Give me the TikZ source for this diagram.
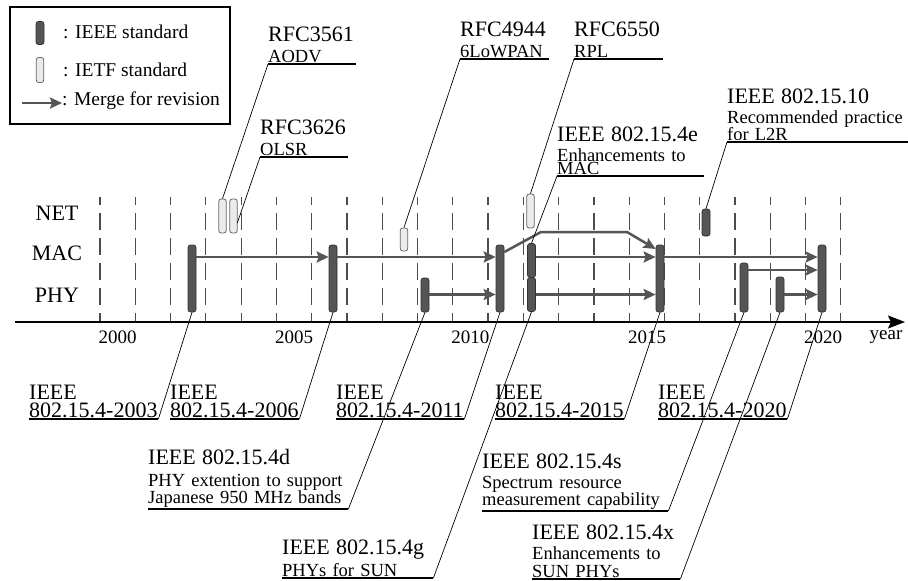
\documentclass[tikz,border=0pt]{standalone}
\usepackage{fontspec}
\setmainfont{Liberation Serif}
\usetikzlibrary{arrows.meta}
\hyphenpenalty=10000 \exhyphenpenalty=10000
\definecolor{bardark}{HTML}{555555}
\definecolor{barline}{HTML}{333333}
\definecolor{barlight}{HTML}{EBEBEB}
\definecolor{arrowgray}{HTML}{555555}
\begin{document}
\begin{tikzpicture}[x=1pt,y=-1pt,
 ieee/.style={rectangle, rounded corners=2.5pt, fill=bardark, draw=barline, line width=0.7pt, minimum width=8pt, inner sep=0pt},
 ietf/.style={rectangle, rounded corners=2.5pt, fill=barlight, draw=black!60, line width=0.8pt, minimum width=7.5pt, inner sep=0pt},
 merge/.style={draw=arrowgray, line width=2.5pt, -{Stealth[length=12pt,width=11pt,inset=2pt]}},
 gridline/.style={draw=black!70, line width=1.2pt, dash pattern=on 17pt off 8pt, dash phase=9pt},
 axisline/.style={draw=black, line width=1.8pt, -{Stealth[length=17pt,width=13pt,inset=3pt]}},
 uline/.style={draw=black, line width=1.8pt},
 leader/.style={draw=black, line width=0.7pt},
 lbl/.style={anchor=south west, inner xsep=0pt, inner ysep=1pt, align=left, font=\fontsize{18.5}{17}\selectfont},
 big/.style={font=\fontsize{22}{17.5}\selectfont},
 rowlbl/.style={font=\fontsize{22}{22}\selectfont, inner sep=0pt},
 yearlbl/.style={font=\fontsize{19}{19}\selectfont, inner sep=0pt},
 legtxt/.style={font=\fontsize{19.5}{19.5}\selectfont, anchor=west, inner sep=0pt}
]
\fill[white] (0,0) rectangle (908,581);
\useasboundingbox (0,0) rectangle (908,581);

% legend
\draw[line width=1.2pt] (10,7) rectangle (230,124);
\node[ieee, minimum height=23pt] (legieee) at (40,33) {};
\node[ietf, minimum height=25pt] (legietf) at (40,70) {};
\node[legtxt] (legt1) at (63,32) {: IEEE standard};
\node[legtxt] (legt2) at (63,70) {: IETF standard};
\node[legtxt] (legt3) at (62,101) {: Merge for revision};
\coordinate (lega) at (22,103);
\draw[merge] (lega) -- (legt3.west |- lega);

% grid
\foreach \i in {0,...,21} {
  \draw[gridline] ({100+35.28*\i},197) -- ({100+35.28*\i},322);
}

% row labels
\node[rowlbl] (net) at (57,213.5) {NET};
\node[rowlbl] (mac) at (57,253.5) {MAC};
\node[rowlbl] (phy) at (57,295) {PHY};

% axis
\coordinate (axs) at (15,322);
\coordinate (axe) at (905,322);
\draw[axisline] (axs) -- (axe);
\node[yearlbl] (y2000) at (117.6,337) {2000};
\node[yearlbl] (y2005) at (294,337) {2005};
\node[yearlbl] (y2010) at (470.3,337) {2010};
\node[yearlbl] (y2015) at (647,337) {2015};
\node[yearlbl] (y2020) at (823,337) {2020};
\node[yearlbl] (yr) at (886,337) {year};

% bars
\node[ieee, minimum height=67pt] (b03) at (192,278.5) {};
\node[ieee, minimum height=67pt] (b06) at (333,278.5) {};
\node[ieee, minimum height=34pt] (b09) at (425,295) {};
\node[ieee, minimum height=67pt] (b11) at (500,278.5) {};
\node[ieee, minimum height=34pt] (b12m) at (531.5,260.5) {};
\node[ieee, minimum height=34pt] (b12p) at (531.5,294.5) {};
\node[ieee, minimum height=67pt] (b15) at (660,278.5) {};
\node[ieee, minimum height=27pt] (b17) at (706,222.5) {};
\node[ieee, minimum height=49pt] (b18) at (744,287.5) {};
\node[ieee, minimum height=35pt] (b19) at (780,294.5) {};
\node[ieee, minimum height=67pt] (b20) at (822,278.5) {};
\node[ietf, minimum height=34pt] (r3561) at (222.5,216) {};
\node[ietf, minimum height=34pt] (r3626) at (233.5,216) {};
\node[ietf, minimum height=23pt] (r4944) at (404,239.5) {};
\node[ietf, minimum height=34pt] (r6550) at (530.5,211) {};

% merge arrows
\coordinate (macy) at (0,257);
\coordinate (phyy) at (0,294.5);
\coordinate (sy) at (0,270);
\draw[merge] (b03.east |- macy) -- (b06.west |- macy);
\draw[merge] (b06.east |- macy) -- (b11.west |- macy);
\draw[merge] (b12m.east |- macy) -- (b15.west |- macy);
\draw[merge] (b15.east |- macy) -- (b20.west |- macy);
\draw[merge] (b09.east |- phyy) -- (b11.west |- phyy);
\draw[merge] (b12p.east |- phyy) -- (b15.west |- phyy);
\draw[merge] (b18.east |- sy) -- (b20.west |- sy);
\draw[merge] (b19.east |- phyy) -- (b20.west |- phyy);
\coordinate (k0) at (0,252);
\coordinate (k1) at (541,232);
\coordinate (k2) at (627,232);
\coordinate (k3) at (0,249);
\draw[merge] (b11.east |- k0) -- (k1) -- (k2) -- (b15.west |- k3);

% top labels
\node[lbl, text width=88pt] (l3561) at (268,64) {{\fontsize{22}{17}\selectfont RFC3561}\\[4pt]AODV};
\draw[uline] (l3561.south west) -- (l3561.south east);
\draw[leader] (l3561.south west) -- (r3561.north);

\node[lbl, text width=88pt] (l3626) at (260,157) {{\fontsize{22}{17}\selectfont RFC3626}\\[4pt]OLSR};
\draw[uline] (l3626.south west) -- (l3626.south east);
\coordinate (r3626c) at (237.3,223);
\draw[leader] (l3626.south west) -- (r3626c);

\node[lbl, text width=89pt] (l4944) at (460,59) {{\fontsize{22}{17}\selectfont RFC4944}\\[4.5pt]6LoWPAN};
\draw[uline] (l4944.south west) -- (l4944.south east);
\draw[leader] (l4944.south west) -- (r4944.north);

\node[lbl, text width=89pt] (l6550) at (574,59) {{\fontsize{22}{17}\selectfont RFC6550}\\[4.5pt]RPL};
\draw[uline] (l6550.south west) -- (l6550.south east);
\draw[leader] (l6550.south west) -- (r6550.north);

\node[lbl, text width=147pt] (l4e) at (557,176) {{\fontsize{22}{17}\selectfont IEEE 802.15.4e}\\[3pt]Enhancements to\\[-4pt]MAC};
\draw[uline] (l4e.south west) -- (l4e.south east);
\draw[leader] (l4e.south west) -- (b12m.north);

\node[lbl, text width=181pt] (l1510) at (727,142) {{\fontsize{22}{17}\selectfont IEEE 802.15.10}\\[3pt]Recommended practice\\for L2R};
\draw[uline] (l1510.south west) -- (l1510.south east);
\draw[leader] (l1510.south west) -- (b17.north);

% bottom labels
\node[lbl, big, text width=129pt] (l2003) at (29,419) {IEEE\\802.15.4-2003};
\draw[uline] (l2003.south west) -- (l2003.south east);
\draw[leader] (l2003.south east) -- (b03.south);

\node[lbl, big, text width=129pt] (l2006) at (170,419) {IEEE\\802.15.4-2006};
\draw[uline] (l2006.south west) -- (l2006.south east);
\draw[leader] (l2006.south east) -- (b06.south);

\node[lbl, big, text width=128pt] (l2011) at (336,419) {IEEE\\802.15.4-2011};
\draw[uline] (l2011.south west) -- (l2011.south east);
\draw[leader] (l2011.south east) -- (b11.south);

\node[lbl, big, text width=129pt] (l2015) at (495,419) {IEEE\\802.15.4-2015};
\draw[uline] (l2015.south west) -- (l2015.south east);
\draw[leader] (l2015.south east) -- (b15.south);

\node[lbl, big, text width=129pt] (l2020) at (658,419) {IEEE\\802.15.4-2020};
\draw[uline] (l2020.south west) -- (l2020.south east);
\draw[leader] (l2020.south east) -- (b20.south);

\node[lbl, text width=200pt] (l4d) at (148,509) {{\fontsize{22}{17}\selectfont IEEE 802.15.4d}\\[5pt]PHY extention to support\\Japanese 950 MHz bands};
\draw[uline] (l4d.south west) -- (l4d.south east);
\draw[leader] (l4d.south east) -- (b09.south);

\node[lbl, text width=186pt] (l4s) at (482,511) {{\fontsize{22}{17}\selectfont IEEE 802.15.4s}\\[3pt]Spectrum resource\\measurement capability};
\draw[uline] (l4s.south west) -- (l4s.south east);
\draw[leader] (l4s.south east) -- (b18.south);

\node[lbl, text width=151pt] (l4g) at (282,578) {{\fontsize{22}{17}\selectfont IEEE 802.15.4g}\\[3pt]PHYs for SUN};
\draw[uline] (l4g.south west) -- (l4g.south east);
\draw[leader] (l4g.south east) -- (b12p.south);

\node[lbl, text width=148pt] (l4x) at (532,579) {{\fontsize{22}{17}\selectfont IEEE 802.15.4x}\\[3pt]Enhancements to\\[1pt]SUN PHYs};
\draw[uline] (l4x.south west) -- (l4x.south east);
\draw[leader] (l4x.south east) -- (b19.south);
\end{tikzpicture}
\end{document}
